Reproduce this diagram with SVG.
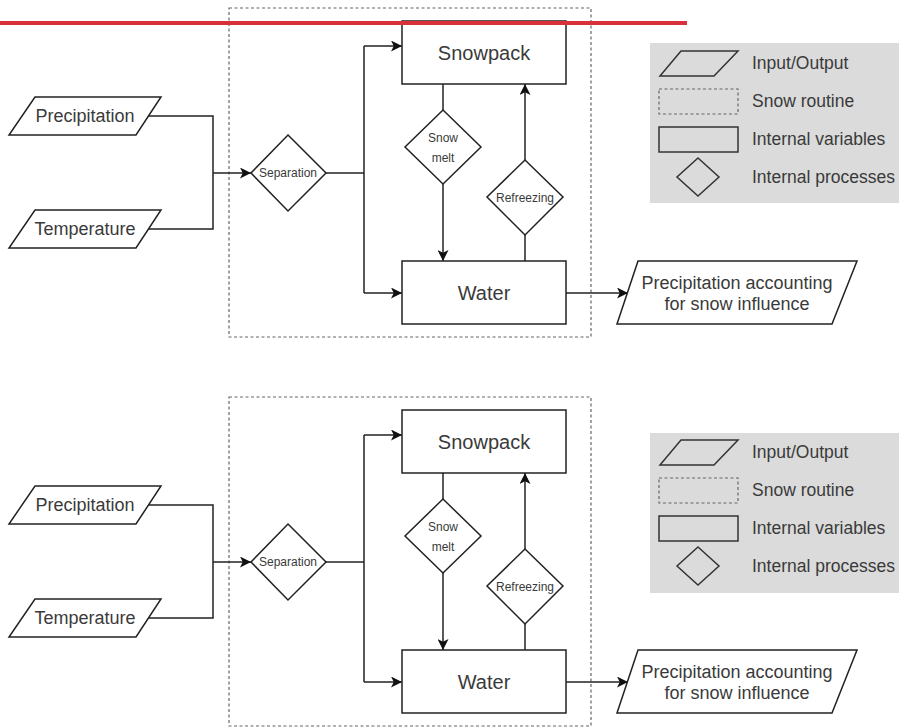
<svg xmlns="http://www.w3.org/2000/svg" width="899" height="727" viewBox="0 0 899 727">
<style>
.sh{fill:#fff;stroke:#222;stroke-width:1.5}
.dash{fill:none;stroke:#666;stroke-width:1.2;stroke-dasharray:3 2.5}
.ln{fill:none;stroke:#222;stroke-width:1.5}
.t{font-family:"Liberation Sans",Arial,sans-serif;fill:#3a3a3a;text-anchor:middle;dominant-baseline:central}
.tl{font-family:"Liberation Sans",Arial,sans-serif;fill:#3a3a3a;dominant-baseline:central;font-size:17.5px}
.lg{fill:#dbdbdb}
.lgsh{fill:none;stroke:#333;stroke-width:1.5}
</style>
<defs>
<marker id="arr" viewBox="0 0 10 10" refX="10" refY="5" markerWidth="11" markerHeight="11" markerUnits="userSpaceOnUse" orient="auto">
<path d="M0,0 L10,5 L0,10 L2.5,5 Z" fill="#111"/>
</marker>
</defs>
<rect width="899" height="727" fill="#fff"/>

<!-- TOP DIAGRAM -->
<g id="top-routine"><rect class="dash" x="229" y="8" width="362" height="329"/></g>
<g id="top-legend">
<rect class="lg" x="650" y="43" width="249" height="160"/>
<polygon class="lgsh" points="681,51 738,51 714,76 660,76"/>
<text class="tl" x="752" y="63">Input/Output</text>
<rect x="659" y="89" width="79" height="25" fill="none" stroke="#666" stroke-width="1.2" stroke-dasharray="3 2.5"/>
<text class="tl" x="752" y="101">Snow routine</text>
<rect class="lgsh" x="659" y="127" width="79" height="25"/>
<text class="tl" x="752" y="139">Internal variables</text>
<polygon class="lgsh" points="698,158 719,177 698,196 677,177"/>
<text class="tl" x="752" y="177">Internal processes</text>
</g>
<g id="top-connectors">
<polyline class="ln" points="148,116 213,116 213,229 148,229"/>
<line class="ln" x1="213" y1="173" x2="251" y2="173" marker-end="url(#arr)"/>
<polyline class="ln" points="326,173 364,173"/>
<polyline class="ln" points="364,46 364,293"/>
<line class="ln" x1="364" y1="46" x2="402" y2="46" marker-end="url(#arr)"/>
<line class="ln" x1="364" y1="293" x2="402" y2="293" marker-end="url(#arr)"/>
<line class="ln" x1="443" y1="84" x2="443" y2="110"/>
<line class="ln" x1="443" y1="184" x2="443" y2="261" marker-end="url(#arr)"/>
<line class="ln" x1="525" y1="261" x2="525" y2="235"/>
<line class="ln" x1="525" y1="160" x2="525" y2="84" marker-end="url(#arr)"/>
<line class="ln" x1="566" y1="293" x2="628" y2="293" marker-end="url(#arr)"/>
</g>
<g id="top-precipitation"><polygon class="sh" points="35,97 161,97 136,135 9,135"/><text class="t" x="85" y="116" font-size="18">Precipitation</text></g>
<g id="top-temperature"><polygon class="sh" points="35,210 161,210 136,248 9,248"/><text class="t" x="85" y="229" font-size="18">Temperature</text></g>
<g id="top-separation"><polygon class="sh" points="288,135 326,173 288,211 251,173"/><text class="t" x="288" y="173" font-size="12">Separation</text></g>
<g id="top-snowpack"><rect class="sh" x="402" y="21" width="164" height="63"/><text class="t" x="484" y="53" font-size="20">Snowpack</text></g>
<g id="top-water"><rect class="sh" x="402" y="261" width="164" height="63"/><text class="t" x="484" y="293" font-size="20">Water</text></g>
<g id="top-snowmelt"><polygon class="sh" points="443,110 481,147 443,184 405,147"/><text class="t" x="443" y="138" font-size="12">Snow</text><text class="t" x="443" y="158" font-size="12">melt</text></g>
<g id="top-refreezing"><polygon class="sh" points="525,160 563,197 525,235 487,197"/><text class="t" x="525" y="198" font-size="12">Refreezing</text></g>
<g id="top-output"><polygon class="sh" points="638,261 857,261 832,324 617,324"/><text class="t" x="737" y="283" font-size="18">Precipitation accounting</text><text class="t" x="737" y="304" font-size="18">for snow influence</text></g>

<!-- BOTTOM DIAGRAM -->
<g transform="translate(0,389)">
<g id="bot-routine"><rect class="dash" x="229" y="8" width="362" height="329"/></g>
<g id="bot-legend">
<rect class="lg" x="650" y="44" width="249" height="160"/>
<polygon class="lgsh" points="681,51 738,51 714,76 660,76"/>
<text class="tl" x="752" y="63">Input/Output</text>
<rect x="659" y="89" width="79" height="25" fill="none" stroke="#666" stroke-width="1.2" stroke-dasharray="3 2.5"/>
<text class="tl" x="752" y="101">Snow routine</text>
<rect class="lgsh" x="659" y="127" width="79" height="25"/>
<text class="tl" x="752" y="139">Internal variables</text>
<polygon class="lgsh" points="698,158 719,177 698,196 677,177"/>
<text class="tl" x="752" y="177">Internal processes</text>
</g>
<g id="bot-connectors">
<polyline class="ln" points="148,116 213,116 213,229 148,229"/>
<line class="ln" x1="213" y1="173" x2="251" y2="173" marker-end="url(#arr)"/>
<polyline class="ln" points="326,173 364,173"/>
<polyline class="ln" points="364,46 364,293"/>
<line class="ln" x1="364" y1="46" x2="402" y2="46" marker-end="url(#arr)"/>
<line class="ln" x1="364" y1="293" x2="402" y2="293" marker-end="url(#arr)"/>
<line class="ln" x1="443" y1="84" x2="443" y2="110"/>
<line class="ln" x1="443" y1="184" x2="443" y2="261" marker-end="url(#arr)"/>
<line class="ln" x1="525" y1="261" x2="525" y2="235"/>
<line class="ln" x1="525" y1="160" x2="525" y2="84" marker-end="url(#arr)"/>
<line class="ln" x1="566" y1="293" x2="628" y2="293" marker-end="url(#arr)"/>
</g>
<g id="bot-precipitation"><polygon class="sh" points="35,97 161,97 136,135 9,135"/><text class="t" x="85" y="116" font-size="18">Precipitation</text></g>
<g id="bot-temperature"><polygon class="sh" points="35,210 161,210 136,248 9,248"/><text class="t" x="85" y="229" font-size="18">Temperature</text></g>
<g id="bot-separation"><polygon class="sh" points="288,135 326,173 288,211 251,173"/><text class="t" x="288" y="173" font-size="12">Separation</text></g>
<g id="bot-snowpack"><rect class="sh" x="402" y="21" width="164" height="63"/><text class="t" x="484" y="53" font-size="20">Snowpack</text></g>
<g id="bot-water"><rect class="sh" x="402" y="261" width="164" height="63"/><text class="t" x="484" y="293" font-size="20">Water</text></g>
<g id="bot-snowmelt"><polygon class="sh" points="443,110 481,147 443,184 405,147"/><text class="t" x="443" y="138" font-size="12">Snow</text><text class="t" x="443" y="158" font-size="12">melt</text></g>
<g id="bot-refreezing"><polygon class="sh" points="525,160 563,197 525,235 487,197"/><text class="t" x="525" y="198" font-size="12">Refreezing</text></g>
<g id="bot-output"><polygon class="sh" points="638,261 857,261 832,324 617,324"/><text class="t" x="737" y="283" font-size="18">Precipitation accounting</text><text class="t" x="737" y="304" font-size="18">for snow influence</text></g>
</g>

<!-- red rule -->
<rect x="0" y="21" width="687" height="4" fill="#d7323a"/>
</svg>
